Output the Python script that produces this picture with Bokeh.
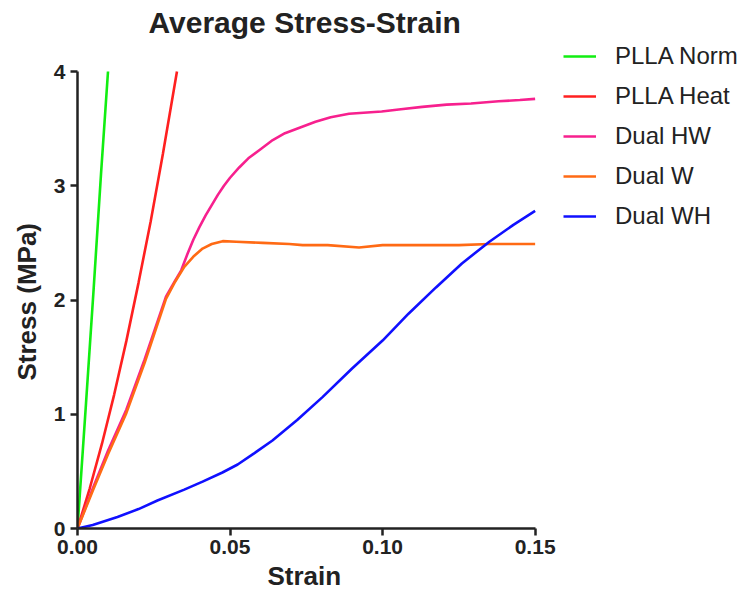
from bokeh.plotting import figure
from bokeh.models import Range1d, FixedTicker, Legend, LegendItem, Title
from bokeh.embed import file_html
from bokeh.resources import INLINE

# ---- data ----
series_names = ["PLLA Norm", "PLLA Heat", "Dual HW", "Dual W", "Dual WH"]

norm_x = [0.0, 0.0028, 0.0053, 0.0077, 0.0100]
norm_y = [0.0, 1.10, 2.10, 3.10, 4.00]

heat_x = [0.0, 0.004, 0.008, 0.012, 0.016, 0.020, 0.024, 0.028, 0.0326]
heat_y = [0.0, 0.35, 0.74, 1.17, 1.64, 2.15, 2.69, 3.28, 4.00]

hw_x = [0.0, 0.005, 0.010, 0.016, 0.022, 0.029, 0.032, 0.034, 0.036, 0.038,
        0.040, 0.042, 0.044, 0.046, 0.048, 0.050, 0.053, 0.056, 0.060, 0.064,
        0.068, 0.073, 0.078, 0.083, 0.089, 0.0997, 0.106, 0.113, 0.121,
        0.129, 0.138, 0.145, 0.150]
hw_y = [0.0, 0.35, 0.68, 1.04, 1.48, 2.03, 2.17, 2.26, 2.40, 2.53,
        2.64, 2.74, 2.83, 2.92, 3.00, 3.07, 3.16, 3.24, 3.32, 3.40,
        3.46, 3.51, 3.56, 3.60, 3.63, 3.65, 3.67, 3.69, 3.71,
        3.72, 3.74, 3.75, 3.76]

w_x = [0.0, 0.005, 0.010, 0.016, 0.022, 0.029, 0.032, 0.035, 0.038, 0.041,
       0.044, 0.0476, 0.052, 0.0607, 0.0694, 0.0738, 0.082, 0.0923, 0.100,
       0.1066, 0.113, 0.125, 0.135, 0.150]
w_y = [0.0, 0.33, 0.65, 1.01, 1.45, 2.01, 2.16, 2.29, 2.38, 2.45,
       2.49, 2.515, 2.51, 2.50, 2.49, 2.48, 2.48, 2.46, 2.48,
       2.48, 2.48, 2.48, 2.49, 2.49]

wh_x = [0.0, 0.005, 0.0131, 0.020, 0.0262, 0.035, 0.041, 0.0475, 0.0525,
        0.058, 0.0639, 0.072, 0.0803, 0.090, 0.100, 0.1085, 0.1175, 0.126,
        0.135, 0.143, 0.150]
wh_y = [0.0, 0.03, 0.10, 0.17, 0.245, 0.34, 0.41, 0.49, 0.56,
        0.66, 0.77, 0.95, 1.15, 1.40, 1.645, 1.88, 2.11, 2.32,
        2.51, 2.66, 2.78]

x_ticks = [0.0, 0.05, 0.10, 0.15]
x_tick_labels = ["0.00", "0.05", "0.10", "0.15"]
y_ticks = [0, 1, 2, 3, 4]
y_tick_labels = ["0", "1", "2", "3", "4"]

colors = ["#11EE11", "#FF2020", "#F7208E", "#FF6A14", "#1010FF"]

FONT = "Liberation Sans"
INK = "#222222"

# ---- layout (pixels) ----
W, H = 745, 598
LEFT, TOP, BOTTOM = 75, 41, 70          # frame borders; frame reaches right edge
AX_RIGHT_PX, AX_TOP_PX = 534, 71        # where x=0.15 and y=4 sit on the page
frame_w = W - LEFT
frame_h = H - TOP - BOTTOM
x_end = x_ticks[-1] * frame_w / (AX_RIGHT_PX - LEFT)
y_end = y_ticks[-1] * frame_h / (H - BOTTOM - AX_TOP_PX)

p = figure(width=W, height=H, output_backend="svg", toolbar_location=None,
           x_range=Range1d(0, x_end), y_range=Range1d(0, y_end),
           min_border_left=LEFT, min_border_right=0, min_border_top=TOP,
           min_border_bottom=BOTTOM)

p.title.text = "Average Stress-Strain"
p.title.align = "left"
p.title.offset = 71
p.title.text_font = FONT
p.title.text_font_size = "30px"
p.title.text_font_style = "bold"
p.title.text_color = INK
p.title.standoff = 6

p.grid.visible = False
p.outline_line_color = None
p.background_fill_color = "white"
p.border_fill_color = "white"

for ax in (p.xaxis[0], p.yaxis[0]):
    ax.axis_line_width = 2.5
    ax.axis_line_color = INK
    ax.major_tick_line_width = 2.5
    ax.major_tick_line_color = INK
    ax.major_tick_out = 7
    ax.major_tick_in = 0
    ax.minor_tick_line_color = None
    ax.major_label_text_font = FONT
    ax.major_label_text_font_size = "21px"
    ax.major_label_text_font_style = "bold"
    ax.major_label_text_color = INK

p.xaxis.ticker = FixedTicker(ticks=x_ticks)
p.xaxis.major_label_overrides = {t: l for t, l in zip(x_ticks, x_tick_labels)}
p.yaxis.ticker = FixedTicker(ticks=y_ticks)
p.yaxis.major_label_overrides = {t: l for t, l in zip(y_ticks, y_tick_labels)}
p.xaxis.bounds = (x_ticks[0], x_ticks[-1])
p.yaxis.bounds = (y_ticks[0], y_ticks[-1])
p.xaxis.major_label_standoff = 4
p.yaxis.major_label_standoff = 5

xlabel = Title(text="Strain", align="left", offset=190, text_font=FONT,
               text_font_size="26px", text_font_style="bold", text_color=INK,
               standoff=4)
p.add_layout(xlabel, "below")
ylabel = Title(text="Stress (MPa)", align="left", offset=148, text_font=FONT,
               text_font_size="26px", text_font_style="bold", text_color=INK,
               standoff=18)
p.add_layout(ylabel, "left")

data = [(norm_x, norm_y), (heat_x, heat_y), (hw_x, hw_y), (w_x, w_y), (wh_x, wh_y)]
renderers = []
for (xs, ys), c in zip(data, colors):
    r = p.line(xs, ys, line_color=c, line_width=2.6)
    renderers.append(r)

items = [LegendItem(label=n, renderers=[r]) for n, r in zip(series_names, renderers)]
# legend top-left at page (561, 41); tuple gives bottom-left from frame bottom
leg_h = 5 * 30 + 4 * 10
legend = Legend(items=items, location=(561 - LEFT, (H - BOTTOM) - (41 + leg_h)))
legend.background_fill_alpha = 0
legend.border_line_color = None
legend.padding = 0
legend.margin = 0
legend.spacing = 10
legend.glyph_width = 33
legend.glyph_height = 30
legend.label_height = 30
legend.label_standoff = 19
legend.label_text_font = FONT
legend.label_text_font_size = "24px"
legend.label_text_color = INK
p.add_layout(legend, "center")

open("out.html", "w").write(file_html(p, INLINE))
